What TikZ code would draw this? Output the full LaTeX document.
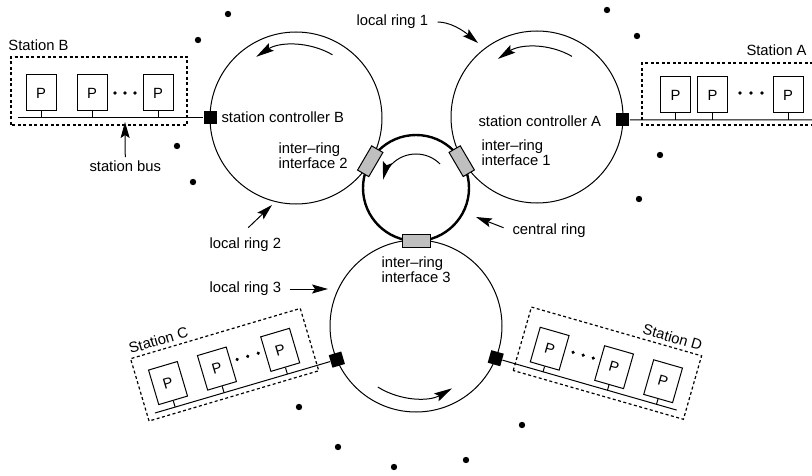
\documentclass[tikz,border=0pt]{standalone}
\usepackage{fontspec}
\setmainfont{Liberation Sans}
\usetikzlibrary{arrows.meta,calc}

\tikzset{
  ring/.style={draw, circle, line width=1pt, minimum size=172pt, inner sep=0pt, outer sep=0pt},
  hubring/.style={draw, circle, line width=2.4pt, minimum size=106pt, inner sep=0pt, outer sep=0pt},
  iface/.style={draw, fill=black!25, line width=1pt, minimum width=28pt, minimum height=13pt, inner sep=0pt},
  ctrl/.style={fill=black, minimum size=13pt, inner sep=0pt},
  pbox/.style={draw, line width=1pt, minimum width=30pt, minimum height=36pt, inner sep=0pt},
  stationbox/.style={draw, dash pattern=on 3pt off 2.5pt, line width=1.2pt},
  lbl/.style={anchor=west, inner sep=0pt},
  flow/.style={line width=1pt, -{Stealth[length=18pt,width=9pt,inset=3pt]}},
  pointer/.style={line width=1pt, -{Stealth[length=16pt,width=9pt,inset=3pt]}},
}

\begin{document}
\begin{tikzpicture}[x=1pt,y=1pt,font=\fontsize{14.8}{15}\selectfont,line width=1pt]
\useasboundingbox (0,0) rectangle (812,475);

% the four rings
\node[ring] (ringB) at (296,357) {};
\node[ring] (ringA) at (537,358) {};
\node[hubring] (hub) at (416,287) {};
\node[ring] (ring3) at (416,149) {};

% direction of travel
\draw[flow] ($(ringB)+(60:73)$) arc[start angle=60, end angle=123, radius=73pt];
\draw[flow] ($(ringA)+(60:70)$) arc[start angle=60, end angle=124, radius=70pt];
\draw[flow] ($(hub)+(45:34)$) arc[start angle=45, end angle=166, radius=34pt];
\draw[flow] ($(ring3)+(238:72)$) arc[start angle=238, end angle=300, radius=72pt];

% inter-ring interfaces
\node[iface, rotate=59.7] (ifB) at ($(hub)+(149.7:53)$) {};
\node[iface, rotate=-59.6] (ifA) at ($(hub)+(30.4:53)$) {};
\node[iface] (if3) at ($(hub)+(-90:53)$) {};

% station controllers
\node[ctrl] (ctrlB) at (ringB.west) {};
\node[ctrl] (ctrlA) at (ringA.-2) {};
\node[ctrl, rotate=16.5] (ctrlC) at (ring3.203) {};
\node[ctrl, rotate=-16] (ctrlD) at (ring3.-22) {};

% station B
\begin{scope}[shift={(0,357)}]
  \draw[stationbox] (11,-7) rectangle (187,61);
  \node[lbl] (stB) at (8,73) {Station B};
  \coordinate (busB) at (18,0);
  \draw (busB) -- (ctrlB);
  \foreach \i/\x in {1/41,2/92,3/158}{
    \node[pbox] (pB\i) at (\x,25) {P};
    \coordinate (tapB\i) at (\x,0);
    \draw (pB\i.south) -- (tapB\i);
  }
  \foreach \x in {115,125,135} \fill (\x,25) circle[radius=1.8pt];
\end{scope}

% station A
\begin{scope}[shift={(0,355)}]
  \draw[stationbox] (813,57) -| (642,-5) -- (813,-5);
  \node[lbl] (stA) at (746,70) {Station A};
  \coordinate (busA) at (813,0);
  \draw (ctrlA) -- (busA);
  \foreach \i/\x in {1/675.5,2/712.5,3/788}{
    \node[pbox] (pA\i) at (\x,25) {P};
    \coordinate (tapA\i) at (\x,0);
    \draw (pA\i.south) -- (tapA\i);
  }
  \foreach \x in {740,751,762} \fill (\x,27) circle[radius=1.8pt];
\end{scope}

% station C
\begin{scope}[shift={(155,62)}, rotate=16.5, transform shape]
  \draw[stationbox] (-8,-6) rectangle (169,59);
  \node[anchor=south west, inner sep=0pt] (stC) at (-7,63) {Station C};
  \coordinate (busC) at (0,0);
  \draw (busC) -- (ctrlC);
  \foreach \i/\x in {1/21,2/72,3/138}{
    \node[pbox] (pC\i) at (\x,25) {P};
    \coordinate (tapC\i) at (\x,0);
    \draw (pC\i.south) -- (tapC\i);
  }
  \foreach \x in {94,105,116} \fill (\x,28) circle[radius=1.8pt];
\end{scope}

% station D
\begin{scope}[shift={(495,117)}, rotate=-16, transform shape]
  \draw[stationbox] (21,-7) rectangle (198,59);
  \node[anchor=south east, inner sep=0pt] (stD) at (196,63) {Station D};
  \coordinate (busD) at (189,0);
  \draw (ctrlD) -- (busD);
  \foreach \i/\x in {1/50,2/117,3/168}{
    \node[pbox] (pD\i) at (\x,24) {P};
    \coordinate (tapD\i) at (\x,0);
    \draw (pD\i.south) -- (tapD\i);
  }
  \foreach \x in {73.5,84,94.5} \fill (\x,27) circle[radius=1.8pt];
\end{scope}

% labels
\node[lbl] (ctlB) at (221,358) {station controller B};
\node[lbl] (ctlA) at (478,354) {station controller A};
\node[lbl, align=left] (ifBl) at (278,319.5) {inter--ring\\interface 2};
\node[lbl, align=left] (ifAl) at (481,322) {inter--ring\\interface 1};
\node[lbl, align=left] (if3l) at (381,205) {inter--ring\\interface 3};

\node[lbl] (sbus) at (89,309) {station bus};
\coordinate (sbustip) at (125,353);
\draw[pointer, shorten <=3pt] (sbus.north) -- (sbustip);

\node[lbl] (lr1) at (356,453) {local ring 1};
\coordinate (lr1tip) at (478,432);
\draw[pointer, shorten <=9pt] (lr1.east) to[out=0,in=140] (lr1tip);

\node[lbl] (lr2) at (209,230) {local ring 2};
\coordinate (lr2tip) at (272,270);
\draw[pointer] ($(lr2.north)+(3,10)$) -- (lr2tip);

\node[lbl] (lr3) at (209,186) {local ring 3};
\coordinate (lr3tip) at (328,186);
\draw[pointer, shorten <=8pt] (lr3.east) -- (lr3tip);

\node[lbl] (cring) at (512,244) {central ring};
\coordinate (cringtip) at (476,258);
\draw[pointer, shorten <=9pt] (cring.west) -- (cringtip);

% scattered stations
\foreach \x/\y in {228/461,198/435,177/329,193/293,607/465,637/439,660/320,639/276,299/68,338/28,394/8,466/15,522/50}
  \fill (\x,\y) circle[radius=3.2pt];
\end{tikzpicture}
\end{document}
